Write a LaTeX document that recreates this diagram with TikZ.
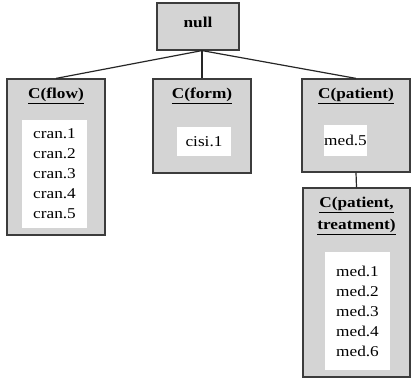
\documentclass[tikz,border=0pt]{standalone}
\usepackage{fontspec}
\setmainfont[FakeStretch=1.15]{Liberation Serif}
\usetikzlibrary{positioning}
\definecolor{boxgray}{HTML}{D4D4D4}
\definecolor{edgegray}{HTML}{3C3C3C}
\tikzset{
  cbox/.style={draw=edgegray,fill=boxgray,line width=1.2pt,inner sep=0pt},
  listbox/.style={fill=white,inner sep=0pt,align=left,font=\fontsize{15}{20}\selectfont},
  ctitle/.style={font=\fontsize{15}{22}\selectfont\bfseries,align=center,inner sep=0pt},
  link/.style={draw=black!85,line width=1.2pt},
}

\begin{document}
\begin{tikzpicture}[x=1pt,y=-1pt]
	\useasboundingbox (0,0) rectangle (411,379);

	% clusters
	\node[cbox,minimum width=82pt,minimum height=47pt] (null) at (198,26.5) {};
	\node[cbox,minimum width=98pt,minimum height=156pt] (flow) at (56,157) {};
	\node[cbox,minimum width=98pt,minimum height=94pt] (form) at (202,126) {};
	\node[cbox,minimum width=108pt,minimum height=93pt] (patient) at (356,125.5) {};
	\node[cbox,minimum width=107pt,minimum height=189pt] (pt) at (356.5,282.5) {};

	% titles
	\node[ctitle] (nulltitle) at (198,22) {null};
	\node[ctitle] (flowtitle) at (56,96) {\underline{C(flow)}};
	\node[ctitle] (formtitle) at (202,96) {\underline{C(form)}};
	\node[ctitle] (patienttitle) at (356,96) {\underline{C(patient)}};
	\node[ctitle] (pttitle) at (356.5,216) {\underline{C(patient,}\\\underline{treatment)}};

	% documents
	\node[listbox,minimum width=65pt,minimum height=108pt] (flowlist) at (54.5,174)
		{cran.1\\cran.2\\cran.3\\cran.4\\cran.5};
	\node[listbox,minimum width=54pt,minimum height=29pt] (formlist) at (204,141.5) {cisi.1};
	\node[listbox,minimum width=43pt,minimum height=31pt] (patientlist) at (345.5,140.5) {med.5};
	\node[listbox,minimum width=65pt,minimum height=118pt] (ptlist) at (357.5,311)
		{med.1\\med.2\\med.3\\med.4\\med.6};

	% tree
	\coordinate (hub) at (null.south -| form.north);
	\draw[link] (hub) -- (flow.north);
	\draw[link] (hub) -- (form.north);
	\draw[link] (hub) -- (patient.north);
	\draw[link] (patient.south) -- (pt.north);
\end{tikzpicture}
\end{document}
